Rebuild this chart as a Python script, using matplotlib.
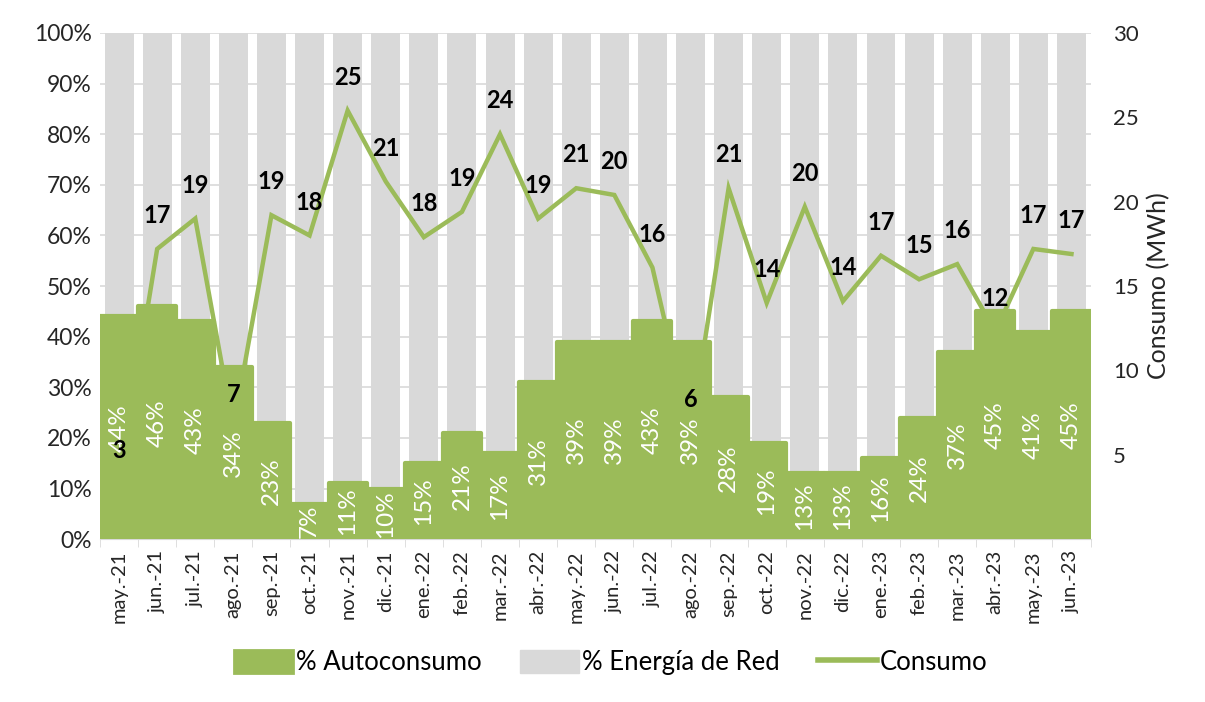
import matplotlib
matplotlib.use("Agg")
import matplotlib.pyplot as plt
import numpy as np
from matplotlib.patches import Patch
from matplotlib.lines import Line2D
from matplotlib.ticker import PercentFormatter, FixedLocator

plt.rcParams['font.family'] = ['Lato', 'DejaVu Sans']

meses = ["may.-21", "jun.-21", "jul.-21", "ago.-21", "sep.-21", "oct.-21", "nov.-21",
         "dic.-21", "ene.-22", "feb.-22", "mar.-22", "abr.-22", "may.-22", "jun.-22",
         "jul.-22", "ago.-22", "sep.-22", "oct.-22", "nov.-22", "dic.-22", "ene.-23",
         "feb.-23", "mar.-23", "abr.-23", "may.-23", "jun.-23"]
autoconsumo = [44, 46, 43, 34, 23, 7, 11, 10, 15, 21, 17, 31, 39, 39, 43, 39,
               28, 19, 13, 13, 16, 24, 37, 45, 41, 45]
consumo = [3.3, 17.2, 19.0, 6.6, 19.2, 18.0, 25.4, 21.2, 17.9, 19.4, 24.0, 19.0, 20.8,
           20.4, 16.1, 6.3, 20.8, 14.0, 19.7, 14.1, 16.8, 15.4, 16.3, 12.3, 17.2, 16.9]
red = [100 - a for a in autoconsumo]

verde = '#9bbb59'
gris = '#d9d9d9'
texto = '#262626'

fig = plt.figure(figsize=(12.05, 7.02), dpi=100)
ax = fig.add_axes([0.083, 0.232, 0.822, 0.721])
x = np.arange(len(meses))

# gray bars + grid on bottom axes
ax.bar(x, red, bottom=autoconsumo, width=0.76, color=gris, zorder=2)
ax.set_ylim(0, 100)
ax.set_xlim(-0.5, len(meses) - 0.5)
ax.yaxis.set_major_locator(FixedLocator(np.arange(0, 101, 10)))
ax.yaxis.set_major_formatter(PercentFormatter(decimals=0))
ax.grid(axis='y', color=gris, linewidth=1.2, zorder=0)
ax.set_axisbelow(True)
for s in ['top', 'right', 'left']:
    ax.spines[s].set_visible(False)
ax.spines['bottom'].set_color(gris)
ax.set_xticks(x)
ax.set_xticklabels(meses, rotation=90, fontsize=14.5, color=texto)
ax.set_xticks(np.arange(-0.5, len(meses)), minor=True)
ax.tick_params(axis='x', which='major', length=0, pad=8)
ax.tick_params(axis='x', which='minor', length=6, color=gris)
ax.tick_params(axis='y', length=0, labelsize=16.5, colors=texto, pad=6)

# line on the right axis
ax2 = ax.twinx()
ax2.plot(x, consumo, color=verde, linewidth=3.2, solid_joinstyle='miter')
ax2.set_ylim(0, 30)
ax2.set_yticks([5, 10, 15, 20, 25, 30])
ax2.tick_params(axis='y', length=0, labelsize=16, colors=texto, pad=16)
ax2.set_ylabel("Consumo (MWh)", fontsize=18, color=texto, labelpad=6)
for s in ax2.spines.values():
    s.set_visible(False)

# green bars drawn over the line
ax3 = fig.add_axes(ax.get_position(), sharex=ax, sharey=ax)
ax3.axis('off')
ax3.bar(x, autoconsumo, width=1.0, color=verde, edgecolor=verde, linewidth=3,
        joinstyle='round')
for xi, a in zip(x, autoconsumo):
    ax3.text(xi, a / 2, f"{a}%", rotation=90, ha='center', va='center',
             color='white', fontsize=17.5)
for xi, c in zip(x, consumo):
    ax3.annotate(f"{c:.0f}", xy=(xi, c), xycoords=ax2.transData,
                 xytext=(0, 24), textcoords='offset points', ha='center', va='center',
                 fontsize=17, fontweight='bold', color='black')

ax.set_zorder(1)
ax2.set_zorder(2)
ax3.set_zorder(3)
ax2.patch.set_visible(False)

handles = [Patch(facecolor=verde, edgecolor=verde, linewidth=2, joinstyle='round'),
           Patch(facecolor=gris, edgecolor=gris),
           Line2D([0], [0], color=verde, linewidth=4)]
fig.legend(handles, ["% Autoconsumo", "% Energía de Red", "Consumo"],
           loc='center', bbox_to_anchor=(0.507, 0.056), ncol=3, frameon=False,
           fontsize=18.5, handlelength=2.3, handleheight=1.0, columnspacing=1.5,
           handletextpad=0.1)

fig.savefig("out.png", dpi=100)
